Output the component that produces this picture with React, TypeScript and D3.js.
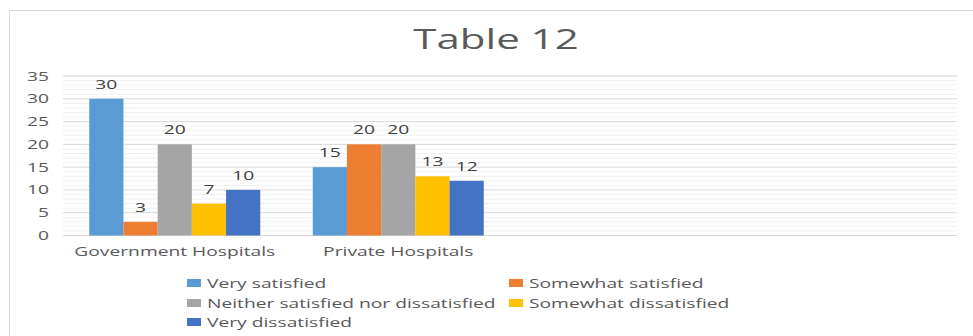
import React from "react";
import * as d3 from "d3";

const categories = ["Government Hospitals", "Private Hospitals", "", ""];
const seriesNames = [
  "Very satisfied",
  "Somewhat satisfied",
  "Neither satisfied nor dissatisfied",
  "Somewhat dissatisfied",
  "Very dissatisfied",
];
const verySatisfied = [30, 15];
const somewhatSatisfied = [3, 20];
const neither = [20, 20];
const somewhatDissatisfied = [7, 13];
const veryDissatisfied = [10, 12];
const seriesColors = ["#5B9BD5", "#ED7D31", "#A5A5A5", "#FFC000", "#4472C4"];
const yTicks = [0, 5, 10, 15, 20, 25, 30, 35];
const titleText = "Table 12";

const seriesValues = [verySatisfied, somewhatSatisfied, neither, somewhatDissatisfied, veryDissatisfied];

const W = 973;
const H = 336;
const FONT = "'Open Sans', sans-serif";
const SX = 1.48;
const TXT = "#595959";

function SText({ x, y, children, anchor = "start", size = 13, color = TXT, sx = SX }: any) {
  return (
    <text
      transform={`translate(${x},${y}) scale(${sx},1)`}
      textAnchor={anchor}
      fontSize={size}
      fontFamily={FONT}
      fill={color}
    >
      {children}
    </text>
  );
}

export default function App() {
  const y = d3.scaleLinear().domain([0, 35]).range([235.5, 76]);
  const x0 = d3.scaleBand<string>().domain(categories.map((c, i) => String(i))).range([63, 957]);
  const x1 = d3
    .scaleBand<string>()
    .domain(seriesNames)
    .range([0, x0.bandwidth()])
    .paddingInner(0)
    .paddingOuter(0.7675);
  const minor = d3.range(0, 36, 1).filter((v) => v % 5 !== 0);

  const legendCols = [187, 509];
  const legendTextCols = [207, 529];
  const legendRows = [283, 303, 322];

  return (
    <svg width={W} height={H} style={{ position: "absolute", left: 0, top: 0, background: "#fff" }}>
      <rect x={9.5} y={10.5} width={1200} height={500} fill="#fff" stroke="#d9d9d9" strokeWidth={1} />
      <SText x={496} y={49} anchor="middle" size={28} sx={1.5}>
        {titleText}
      </SText>
      {minor.map((v) => (
        <line key={"m" + v} x1={63} x2={957} y1={y(v)} y2={y(v)} stroke="#f0f0f0" strokeWidth={1} />
      ))}
      {yTicks.map((v) => (
        <g key={"t" + v}>
          <line x1={63} x2={957} y1={y(v)} y2={y(v)} stroke="#d9d9d9" strokeWidth={1} />
          <SText x={49} y={y(v) + 4.5} anchor="end">
            {v}
          </SText>
        </g>
      ))}
      {categories.map((c, ci) => (
        <g key={"c" + ci}>
          {seriesNames.map((s, si) => {
            const v = seriesValues[si][ci];
            if (v === undefined) return null;
            const bx = (x0(String(ci)) as number) + (x1(s) as number);
            return (
              <g key={s}>
                <rect x={bx} y={y(v)} width={x1.bandwidth()} height={y(0) - y(v)} fill={seriesColors[si]} />
                <SText x={bx + x1.bandwidth() / 2} y={y(v) - 10} anchor="middle" color="#404040">
                  {v}
                </SText>
              </g>
            );
          })}
          {c && (
            <SText x={(x0(String(ci)) as number) + x0.bandwidth() / 2} y={256} anchor="middle">
              {c}
            </SText>
          )}
        </g>
      ))}
      {seriesNames.map((s, i) => {
        const col = i % 2;
        const row = Math.floor(i / 2);
        return (
          <g key={"l" + s}>
            <rect x={legendCols[col]} y={legendRows[row] - 4} width={14} height={8} fill={seriesColors[i]} />
            <SText x={legendTextCols[col]} y={legendRows[row] + 4.5}>
              {s}
            </SText>
          </g>
        );
      })}
    </svg>
  );
}
